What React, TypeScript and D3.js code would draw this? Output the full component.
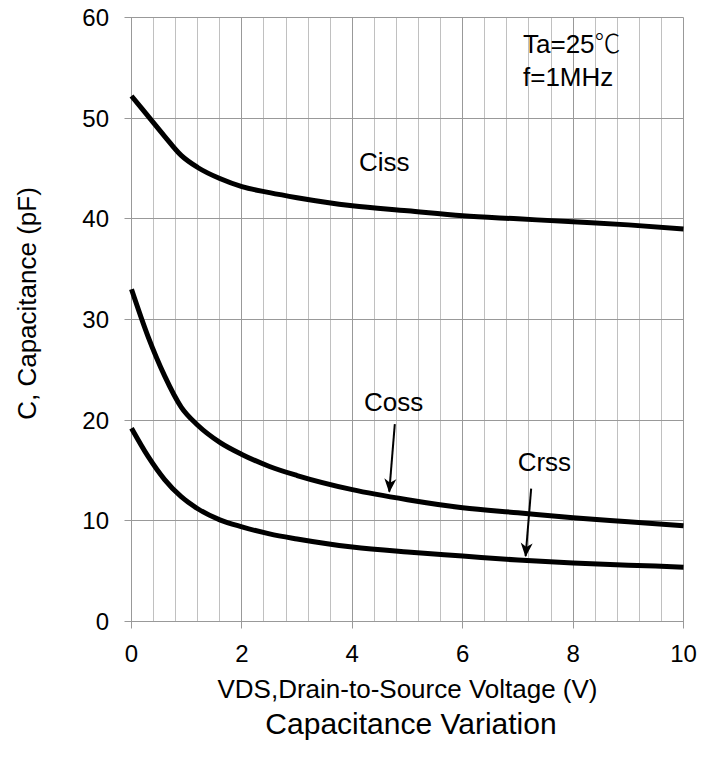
import { useEffect, useRef } from "react";
import * as d3 from "d3";

// VDS (V) sample points
const vds = [0, 0.3, 0.6, 0.9, 1.2, 1.6, 2, 2.5, 3, 4, 5, 6, 7, 8, 9, 10];
const ciss = [52.2, 50.2, 48.2, 46.3, 45.1, 44.0, 43.2, 42.6, 42.1, 41.3, 40.8, 40.3, 40.0, 39.7, 39.4, 39.0];
const coss = [33.0, 28.3, 24.4, 21.3, 19.5, 17.8, 16.6, 15.4, 14.5, 13.1, 12.1, 11.3, 10.8, 10.3, 9.9, 9.5];
const crss = [19.2, 16.4, 14.1, 12.4, 11.2, 10.1, 9.4, 8.7, 8.2, 7.4, 6.9, 6.5, 6.1, 5.8, 5.6, 5.4];

const xTicks = [0, 2, 4, 6, 8, 10];
const yTicks = [0, 10, 20, 30, 40, 50, 60];

// curve labels and arrows, in data units
const labels = [
  { text: "Ciss", x: 4.58, y: 44.8 },
  { text: "Coss", x: 4.75, y: 20.9 },
  { text: "Crss", x: 7.48, y: 15.0 },
];
const arrows = [
  { x1: 4.77, y1: 19.6, x2: 4.67, y2: 12.9 },
  { x1: 7.24, y1: 13.2, x2: 7.14, y2: 6.5 },
];

const W = 716;
const H = 757;
const FONT = "'Liberation Sans', Arial, sans-serif";

// snap a 1px line to the pixel grid
const crisp = (v: number) => Math.round(v - 0.5) + 0.5;

export default function App() {
  const ref = useRef<SVGSVGElement>(null);

  useEffect(() => {
    document.body.style.margin = "0";
    const svg = d3.select(ref.current);
    svg.selectAll("*").remove();

    const x = d3.scaleLinear().domain([0, 10]).range([131.5, 683.5]);
    const y = d3.scaleLinear().domain([0, 60]).range([621.5, 17.5]);

    svg
      .append("defs")
      .append("marker")
      .attr("id", "arrowhead")
      .attr("viewBox", "-14 -7 16 14")
      .attr("markerWidth", 16)
      .attr("markerHeight", 14)
      .attr("markerUnits", "userSpaceOnUse")
      .attr("orient", "auto")
      .append("path")
      .attr("d", "M1,0 L-13,-6 L-9,0 L-13,6 Z")
      .attr("fill", "#000");

    const g = svg.append("g");

    // minor vertical grid, every 0.4 V
    const minor = d3.range(0, 10.001, 0.4).filter((v) => Math.abs(v / 2 - Math.round(v / 2)) > 0.01);
    g.selectAll("line.minor")
      .data(minor)
      .join("line")
      .attr("class", "minor")
      .attr("x1", (d) => crisp(x(d)))
      .attr("x2", (d) => crisp(x(d)))
      .attr("y1", y(0))
      .attr("y2", y(60))
      .attr("stroke", "#c0c0c0")
      .attr("stroke-width", 1);

    g.selectAll("line.majx")
      .data(xTicks)
      .join("line")
      .attr("class", "majx")
      .attr("x1", (d) => crisp(x(d)))
      .attr("x2", (d) => crisp(x(d)))
      .attr("y1", y(0) + 7)
      .attr("y2", y(60))
      .attr("stroke", "#999")
      .attr("stroke-width", 1);

    g.selectAll("line.majy")
      .data(yTicks)
      .join("line")
      .attr("class", "majy")
      .attr("x1", x(0) - 7)
      .attr("x2", x(10))
      .attr("y1", (d) => crisp(y(d)))
      .attr("y2", (d) => crisp(y(d)))
      .attr("stroke", "#999")
      .attr("stroke-width", 1);

    // tick labels
    g.selectAll("text.xt")
      .data(xTicks)
      .join("text")
      .attr("class", "xt")
      .attr("x", (d) => x(d))
      .attr("y", 662)
      .attr("text-anchor", "middle")
      .attr("font-family", FONT)
      .attr("font-size", 24)
      .text((d) => d);

    g.selectAll("text.yt")
      .data(yTicks)
      .join("text")
      .attr("class", "yt")
      .attr("x", 109)
      .attr("y", (d) => y(d) + 8.5)
      .attr("text-anchor", "end")
      .attr("font-family", FONT)
      .attr("font-size", 24)
      .text((d) => d);

    // curves
    const line = d3
      .line<number>()
      .x((_, i) => x(vds[i]))
      .y((d) => y(d))
      .curve(d3.curveMonotoneX);

    [ciss, coss, crss].forEach((s) => {
      g.append("path")
        .attr("d", line(s))
        .attr("fill", "none")
        .attr("stroke", "#000")
        .attr("stroke-width", 5)
        .attr("stroke-linejoin", "round");
    });

    g.selectAll("text.lab")
      .data(labels)
      .join("text")
      .attr("class", "lab")
      .attr("x", (d) => x(d.x))
      .attr("y", (d) => y(d.y))
      .attr("text-anchor", "middle")
      .attr("font-family", FONT)
      .attr("font-size", 26)
      .text((d) => d.text);

    g.selectAll("line.arrow")
      .data(arrows)
      .join("line")
      .attr("class", "arrow")
      .attr("x1", (d) => x(d.x1))
      .attr("y1", (d) => y(d.y1))
      .attr("x2", (d) => x(d.x2))
      .attr("y2", (d) => y(d.y2))
      .attr("stroke", "#000")
      .attr("stroke-width", 2)
      .attr("marker-end", "url(#arrowhead)");

    // test conditions
    const t1 = g
      .append("text")
      .attr("x", 523)
      .attr("y", 53.3)
      .attr("font-family", FONT)
      .attr("font-size", 26);
    t1.append("tspan").text("Ta=25");
    t1.append("tspan")
      .attr("font-family", "'Noto Sans CJK SC', sans-serif")
      .attr("font-weight", 300)
      .text("℃");

    g.append("text")
      .attr("x", 523)
      .attr("y", 85.7)
      .attr("font-family", FONT)
      .attr("font-size", 26)
      .text("f=1MHz");

    // axis titles
    g.append("text")
      .attr("x", (x(0) + x(10)) / 2)
      .attr("y", 698)
      .attr("text-anchor", "middle")
      .attr("font-family", FONT)
      .attr("font-size", 26)
      .text("VDS,Drain-to-Source Voltage (V)");

    g.append("text")
      .attr("transform", `translate(36,${(y(0) + y(60)) / 2 - 16}) rotate(-90)`)
      .attr("text-anchor", "middle")
      .attr("font-family", FONT)
      .attr("font-size", 26)
      .text("C, Capacitance (pF)");

    g.append("text")
      .attr("x", 411)
      .attr("y", 734)
      .attr("text-anchor", "middle")
      .attr("font-family", FONT)
      .attr("font-size", 30)
      .text("Capacitance Variation");
  }, []);

  return <svg ref={ref} width={W} height={H} style={{ display: "block", background: "#fff" }} />;
}
